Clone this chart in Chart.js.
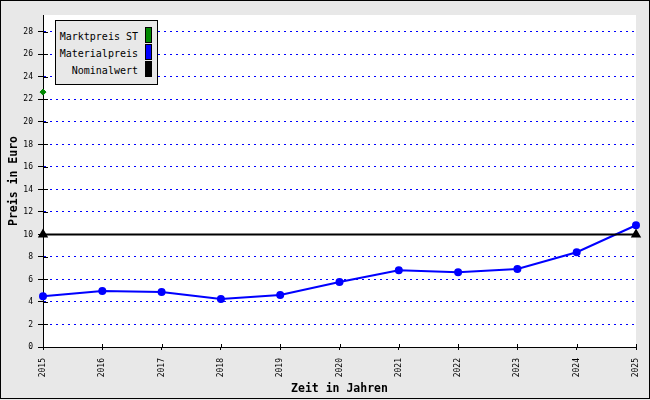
<!DOCTYPE html>
<html>
<head>
<meta charset="utf-8">
<script src="https://cdn.jsdelivr.net/npm/chart.js@4"></script>
<style>
  html, body { margin: 0; padding: 0; background: #e8e8e8; }
  #wrap { position: relative; width: 650px; height: 400px; }
  #legend {
    position: absolute; left: 55px; top: 20px; width: 101px; height: 63px;
    border: 1px solid #000; background: #e8e8e8;
    font-family: 'DejaVu Sans Mono', monospace; font-size: 10px; color: #000;
  }
  #legend .lbl { position: absolute; right: 19px; text-align: right; white-space: nowrap; line-height: 12px; }
  #legend .box { position: absolute; left: 89px; width: 5px; height: 14px; border: 1px solid #000; }
</style>
</head>
<body>
<div id="wrap">
  <canvas id="myChart" width="650" height="400"></canvas>
  <div id="legend">
    <span class="lbl" style="top:10px">Marktpreis ST</span><span class="box" style="top:6px;background:#008800"></span>
    <span class="lbl" style="top:27px">Materialpreis</span><span class="box" style="top:23px;background:#0000ff"></span>
    <span class="lbl" style="top:44px">Nominalwert</span><span class="box" style="top:40px;background:#000"></span>
  </div>
</div>
<script>
// Werte
const years = ['2015', '2016', '2017', '2018', '2019', '2020', '2021', '2022', '2023', '2024', '2025'];
const materialpreis = [4.50, 4.98, 4.89, 4.27, 4.63, 5.78, 6.82, 6.64, 6.93, 8.42, 10.82];
const nominalwert = [10, null, null, null, null, null, null, null, null, null, 10];
const marktpreisST = [22.65, null, null, null, null, null, null, null, null, null, null];

// Hintergrund, Rahmen und weisse Zeichenflaeche
const background = {
  id: 'background',
  beforeDraw(chart) {
    const ctx = chart.ctx, a = chart.chartArea;
    ctx.save();
    ctx.fillStyle = '#e8e8e8';
    ctx.fillRect(0, 0, chart.width, chart.height);
    ctx.strokeStyle = '#000';
    ctx.lineWidth = 1;
    ctx.strokeRect(0.5, 0.5, chart.width - 1, chart.height - 2);
    ctx.fillStyle = '#fff';
    ctx.fillRect(a.left, a.top, a.right - a.left, a.bottom - a.top);
    ctx.restore();
  }
};

// Tick-Striche auch nach innen zeichnen
const innerTicks = {
  id: 'innerTicks',
  afterDraw(chart) {
    const ctx = chart.ctx;
    const x = chart.scales.x, y = chart.scales.y;
    ctx.save();
    ctx.strokeStyle = '#000';
    ctx.lineWidth = 1;
    ctx.beginPath();
    y.ticks.forEach((t, i) => {
      const py = Math.round(y.getPixelForTick(i)) + 0.5;
      ctx.moveTo(y.right, py);
      ctx.lineTo(y.right + 5, py);
    });
    x.ticks.forEach((t, i) => {
      const px = Math.round(x.getPixelForTick(i)) + 0.5;
      ctx.moveTo(px, x.top);
      ctx.lineTo(px, x.top - 3);
    });
    ctx.stroke();
    ctx.restore();
  }
};

const ctx = document.getElementById('myChart').getContext('2d');
const myChart = new Chart(ctx, {
  type: 'line',
  data: {
    labels: years,
    datasets: [
      {
        label: 'Nominalwert',
        data: nominalwert,
        borderColor: '#000',
        backgroundColor: '#000',
        borderWidth: 2,
        pointStyle: 'triangle',
        pointRadius: 4,
        spanGaps: true,
        fill: false
      },
      {
        label: 'Materialpreis',
        data: materialpreis,
        borderColor: '#0000ff',
        backgroundColor: '#0000ff',
        borderWidth: 2,
        pointRadius: 3,
        tension: 0,
        fill: false
      },
      {
        label: 'Marktpreis ST',
        data: marktpreisST,
        borderColor: '#008800',
        backgroundColor: '#008800',
        showLine: false,
        pointStyle: 'rectRot',
        pointRadius: 3
      }
    ]
  },
  options: {
    responsive: false,
    animation: false,
    layout: { padding: { top: 15, right: 14, left: 0, bottom: 0 } },
    plugins: {
      legend: { display: false },
      tooltip: { enabled: false }
    },
    scales: {
      x: {
        offset: false,
        afterFit(scale) {
          scale.height = 53;
          scale.paddingLeft = 0;
          scale.paddingRight = 0;
        },
        grid: { display: true, drawOnChartArea: false, tickLength: 3, tickColor: '#000' },
        border: { color: '#000', width: 1 },
        ticks: {
          color: '#000', font: { family: 'DejaVu Sans Mono', size: 8 },
          minRotation: 90, maxRotation: 90, padding: 8, autoSkip: false
        },
        title: {
          display: true, text: 'Zeit in Jahren', color: '#000',
          font: { family: 'DejaVu Sans Mono', size: 11.5, weight: 'bold' },
          padding: { top: 0, bottom: 4 }
        }
      },
      y: {
        min: 0,
        max: 29.5,
        afterFit(scale) { scale.width = 43; },
        grid: { color: '#0000ff', lineWidth: 1, tickLength: 5, tickColor: '#000' },
        border: { color: '#000', width: 1, dash: [2, 4] },
        ticks: {
          stepSize: 2, includeBounds: false, color: '#000', padding: 5,
          font: { family: 'DejaVu Sans Mono', size: 8 }
        },
        title: {
          display: true, text: 'Preis in Euro', color: '#000',
          font: { family: 'DejaVu Sans Mono', size: 11.5, weight: 'bold' },
          padding: { top: 7, bottom: 0 }
        }
      }
    }
  },
  plugins: [background, innerTicks]
});
</script>
</body>
</html>
